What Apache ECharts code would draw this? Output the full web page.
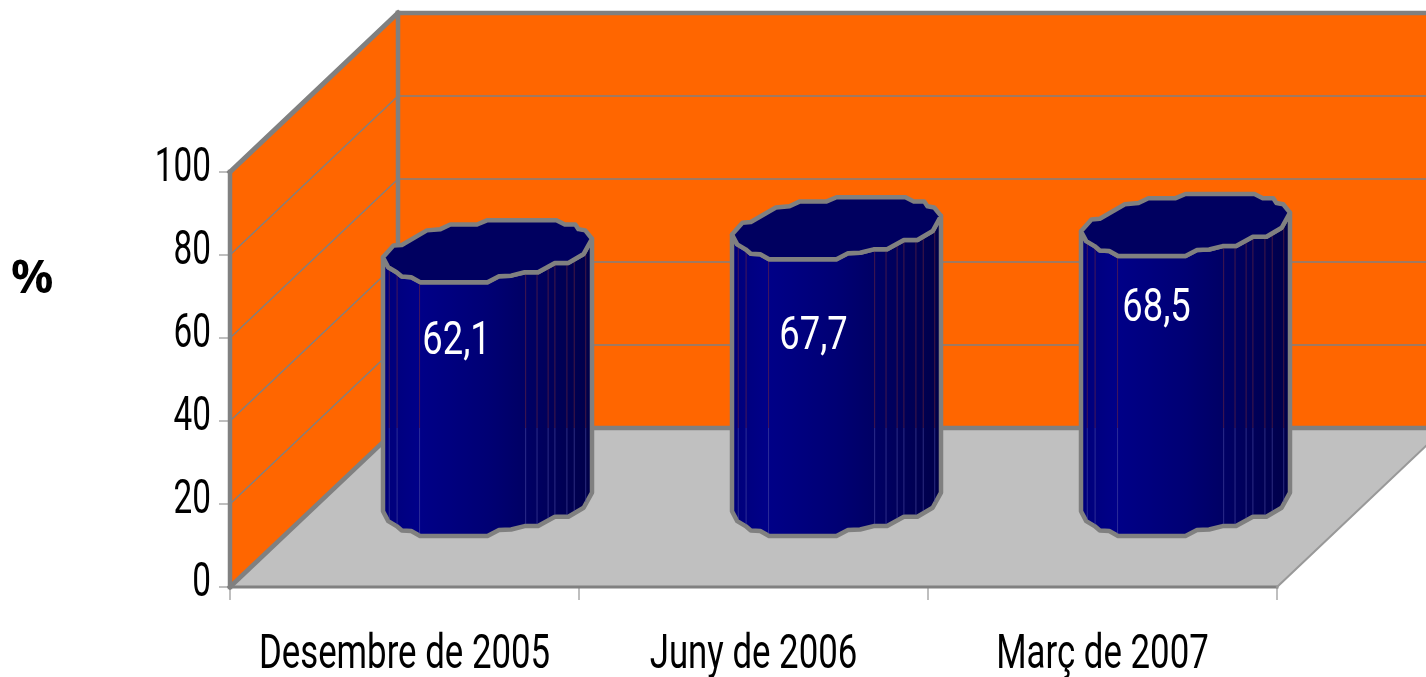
<!DOCTYPE html>
<html>
<head>
<meta charset="utf-8">
<style>html,body{margin:0;padding:0;background:#fff}#c{width:1426px;height:677px}</style>
<script src="https://cdn.jsdelivr.net/npm/echarts@6/dist/echarts.min.js"></script>
</head>
<body>
<div id="c"></div>
<script>
const categories = ['Desembre de 2005', 'Juny de 2006', 'Març de 2007'];
const values = [62.1, 67.7, 68.5];
const valueLabels = ['62,1', '67,7', '68,5'];
const yTicks = [0, 20, 40, 60, 80, 100];

// styling / projection constants
const WALL_DX = 168, WALL_DY = -159;
const BAR_DX = 83, BAR_DY = -82, BAR_SCALE = 0.985;
const RX = 104.5, RY = 31;
const labelNudge = [[-31, 91], [-23, 109], [-29, 85]];
const GREY = '#808080';
const AXIS_FONT = '400 49px Roboto, "Liberation Sans", sans-serif';
const VALUE_FONT = '400 46px Roboto, "Liberation Sans", sans-serif';
const Y_SCALE = 0.68, X_SCALE = 0.71, VALUE_SCALE = 0.79;
// outline of the cylinder cap, in units of RX / RY
const frontProfile = [[-1,0.2],[-0.95,0.52],[-0.87,0.68],[-0.82,0.82],[-0.73,0.84],[-0.645,1],[0,1],[0.11,0.81],[0.226,0.79],[0.355,0.68],[0.484,0.68],[0.645,0.38],[0.774,0.38],[0.92,0.09],[1,-0.4]];
const backProfile = [[0.935,-0.67],[0.87,-0.71],[0.84,-0.86],[0.74,-0.86],[0.66,-1],[0,-1],[-0.1,-0.86],[-0.355,-0.86],[-0.45,-0.71],[-0.58,-0.67],[-0.82,-0.2],[-0.9,-0.18]];
const facetLines = [-0.94,-0.865,-0.65,0.365,0.474,0.58,0.645,0.76,0.83,0.94];

function frontAt(u) {
  for (let k = 1; k < frontProfile.length; k++) {
    const a = frontProfile[k-1], b = frontProfile[k];
    if (u <= b[0]) return a[1] + (b[1]-a[1]) * (u-a[0]) / (b[0]-a[0]);
  }
  return 0;
}

function scaledText(text, x, y, scaleX, font, align, fill) {
  return {type:'text', x:x, y:y, scaleX:scaleX, scaleY:1,
    style:{text:text, x:0, y:0, font:font, align:align, verticalAlign:'middle', fill:fill}};
}

function renderWalls(params, api) {
  const cs = params.coordSys;
  const x0 = cs.x, x1 = cs.x + cs.width;
  const y0 = api.coord([0, 0])[1], y100 = api.coord([0, 100])[1];
  const kids = [];
  const poly = (pts, fill) => ({type:'polygon', shape:{points:pts}, style:{fill:fill, stroke:'none'}});
  const line = (a, b, w, c) => ({type:'line', shape:{x1:a[0],y1:a[1],x2:b[0],y2:b[1]}, style:{stroke:c||GREY, lineWidth:w, lineCap:'square'}});
  const bx = x0 + WALL_DX, tx = x1 + WALL_DX;
  kids.push(poly([[bx,y100+WALL_DY],[tx,y100+WALL_DY],[tx,y0+WALL_DY],[bx,y0+WALL_DY]], '#FF6600'));
  kids.push(poly([[x0,y100],[bx,y100+WALL_DY],[bx,y0+WALL_DY],[x0,y0]], '#FF6600'));
  kids.push(poly([[x0,y0],[x1,y0],[tx,y0+WALL_DY],[bx,y0+WALL_DY]], '#C0C0C0'));
  yTicks.forEach(v => {
    const y = api.coord([0, v])[1];
    kids.push(scaledText(String(v), x0-19, y-3, Y_SCALE, AXIS_FONT, 'right', '#000'));
    if (v === 0 || v === 100) return;
    kids.push(line([x0,y],[bx,y+WALL_DY],1.4));
    kids.push(line([bx,y+WALL_DY],[tx,y+WALL_DY],1.4));
  });
  categories.forEach((c, i) => {
    kids.push(scaledText(c, api.coord([i, 0])[0], y0+69, X_SCALE, AXIS_FONT, 'center', '#000'));
  });
  kids.push(line([x0,y100],[x0,y0],4.5));
  kids.push(line([x0,y100],[bx,y100+WALL_DY],5));
  kids.push(line([bx,y100+WALL_DY],[tx,y100+WALL_DY],4.5));
  kids.push(line([bx,y100+WALL_DY],[bx,y0+WALL_DY],4.5));
  kids.push(line([bx,y0+WALL_DY],[tx,y0+WALL_DY],4.5));
  kids.push(line([x0,y0],[bx,y0+WALL_DY],4.5));
  kids.push(line([x0,y0],[x1,y0],3));
  kids.push(line([x1,y0],[tx,y0+WALL_DY],2,'#999999'));
  return {type:'group', children:kids};
}

function renderBar(params, api) {
  const i = api.value(0), v = api.value(1);
  const base = api.coord([i, 0]), top = api.coord([i, v]);
  const cx = base[0] + BAR_DX, by = base[1] + BAR_DY;
  const ty = by - (base[1] - top[1]) * BAR_SCALE;
  const floorBack = base[1] + WALL_DY;
  const P = (p, y) => [cx + p[0]*RX, y + p[1]*RY];
  const front = frontProfile.map(p => P(p, by));
  const frontTop = frontProfile.map(p => P(p, ty));
  const body = front.concat(frontTop.slice().reverse());
  const cap = frontTop.concat(backProfile.map(p => P(p, ty)));
  const kids = [];
  kids.push({type:'polygon', shape:{points:body}, style:{
    fill:{type:'linear',x:0,y:0,x2:1,y2:0,colorStops:[
      {offset:0,color:'#000078'},{offset:0.17,color:'#000088'},{offset:0.5,color:'#000074'},{offset:0.75,color:'#00005e'},{offset:1,color:'#000048'}]},
    stroke:GREY, lineWidth:4.5, lineJoin:'round'}});
  facetLines.forEach(u => {
    const x = cx + u*RX, h = frontAt(u)*RY;
    const yTopSeg = ty + h, yBot = by + h - 2;
    kids.push({type:'line', shape:{x1:x,y1:yTopSeg,x2:x,y2:floorBack}, style:{stroke:'#7a2a3a', lineWidth:1, opacity:0.55}});
    kids.push({type:'line', shape:{x1:x,y1:floorBack,x2:x,y2:yBot}, style:{stroke:'#5050a8', lineWidth:1, opacity:0.55}});
  });
  kids.push({type:'polygon', shape:{points:cap}, style:{fill:'#000060', stroke:GREY, lineWidth:4.5, lineJoin:'round'}});
  const n = labelNudge[params.dataIndex];
  kids.push(scaledText(valueLabels[params.dataIndex], cx+n[0], ty+n[1], VALUE_SCALE, VALUE_FONT, 'center', '#fff'));
  return {type:'group', children:kids};
}

const chart = echarts.init(document.getElementById('c'), null, {renderer:'canvas'});
chart.setOption({
  animation:false,
  backgroundColor:'#fff',
  title:{text:'%', left:6, top:251, textStyle:{fontFamily:'"Noto Sans",sans-serif', fontWeight:'bold', fontSize:47, color:'#000'}},
  grid:{left:230, right:149, top:172, bottom:90, containLabel:false},
  xAxis:{type:'category', data:categories, boundaryGap:true,
    axisLine:{show:true, lineStyle:{color:GREY, width:2}},
    axisTick:{show:true, alignWithLabel:false, length:13, lineStyle:{color:'#aaaaaa', width:1.5}},
    axisLabel:{show:false}},
  yAxis:{type:'value', min:0, max:100, interval:20,
    splitLine:{show:false},
    axisLine:{show:true, lineStyle:{color:GREY, width:3}},
    axisTick:{show:true, length:11, lineStyle:{color:'#aaaaaa', width:1.5}},
    axisLabel:{show:false}},
  series:[
    {type:'custom', name:'walls', coordinateSystem:'cartesian2d', clip:false, silent:true, z:1, data:[[0,0]], encode:{x:0,y:1}, renderItem:renderWalls},
    {type:'custom', name:'%', coordinateSystem:'cartesian2d', clip:false, z:3, data:values.map((v,i)=>[i,v]), encode:{x:0,y:1}, renderItem:renderBar}
  ]
});
</script>
</body>
</html>
